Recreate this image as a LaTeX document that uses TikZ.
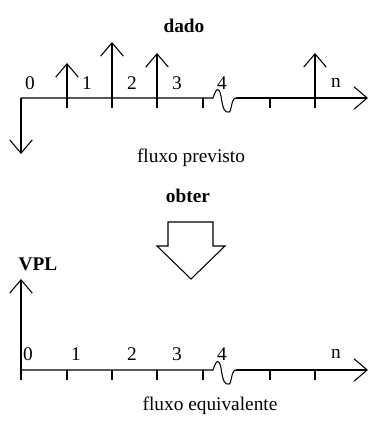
\documentclass[tikz,border=0pt]{standalone}
\usepackage{fontspec}
\setmainfont{Liberation Serif}
\usetikzlibrary{arrows.meta}
\begin{document}
\begin{tikzpicture}[x=0.75pt,y=-0.75pt,
	axisline/.style={line width=0.8pt,black},
	flowarrow/.style={line width=0.8pt,black,-{Straight Barb[length=10pt,width=17pt,line width=0.8pt]}},
	lbl/.style={font=\fontsize{14.5}{16}\selectfont,inner sep=0pt},
	bold/.style={font=\fontsize{14.5}{16}\selectfont\bfseries,inner sep=0pt}]
	\useasboundingbox (0,0) rectangle (369,421);
	% fluxo previsto
	\node[bold] (dado) at (184,26) {dado};
	\coordinate (t0) at (21,98);
	\coordinate (tbreakA) at (213,98);
	\coordinate (tbreakB) at (236,98);
	\coordinate (tend) at (368,98);
	\draw[axisline] (t0) -- (tbreakA)
		.. controls (216,88) and (219,86) .. (221,96)
		.. controls (223,110) and (225,113) .. (229,112)
		.. controls (232,111) and (231,98) .. (tbreakB);
	\draw[flowarrow] (tbreakB) -- (tend);
	\coordinate (tneg) at (21,154);
	\draw[flowarrow] (t0) -- (tneg);
	\foreach \x in {67,112,157,203,270,315}
		\draw[axisline] (\x,98) -- (\x,108);
	\coordinate (t1) at (67,98);  \coordinate (h1) at (67,63);
	\coordinate (t2) at (112,98); \coordinate (h2) at (112,42);
	\coordinate (t3) at (157,98); \coordinate (h3) at (157,53);
	\coordinate (tn) at (315,98); \coordinate (hn) at (315,53);
	\draw[flowarrow] (t1) -- (h1);
	\draw[flowarrow] (t2) -- (h2);
	\draw[flowarrow] (t3) -- (h3);
	\draw[flowarrow] (tn) -- (hn);
	\node[lbl] (a0) at (30,83) {0};
	\node[lbl] (a1) at (87,83) {1};
	\node[lbl] (a2) at (132,83) {2};
	\node[lbl] (a3) at (177,83) {3};
	\node[lbl] (a4) at (222,83) {4};
	\node[lbl] (an) at (336,83) {n};
	\node[lbl] (prev) at (191,158) {fluxo previsto};
	% obter
	\node[bold] (obter) at (188,196) {obter};
	\draw[line width=0.8pt,fill=white] (168,222) -- (213,222) -- (213,246) -- (225,246)
		-- (191,279) -- (157,246) -- (168,246) -- cycle;
	% fluxo equivalente
	\node[bold] (vpl) at (38,264) {VPL};
	\coordinate (b0) at (21,370);
	\coordinate (bbreakA) at (213,370);
	\coordinate (bbreakB) at (236,370);
	\coordinate (bend) at (368,370);
	\coordinate (bvpl) at (21,279);
	\draw[axisline] (b0) -- (bbreakA)
		.. controls (216,360) and (219,358) .. (221,368)
		.. controls (223,382) and (225,385) .. (229,384)
		.. controls (232,383) and (231,370) .. (bbreakB);
	\draw[flowarrow] (bbreakB) -- (bend);
	\draw[flowarrow] (b0) -- (bvpl);
	\foreach \x in {21,67,112,157,203,270,315}
		\draw[axisline] (\x,370) -- (\x,380);
	\node[lbl] (c0) at (28,354) {0};
	\node[lbl] (c1) at (76,354) {1};
	\node[lbl] (c2) at (132,354) {2};
	\node[lbl] (c3) at (177,354) {3};
	\node[lbl] (c4) at (222,354) {4};
	\node[lbl] (cn) at (336,354) {n};
	\node[lbl] (equiv) at (210,406) {fluxo equivalente};
\end{tikzpicture}
\end{document}
